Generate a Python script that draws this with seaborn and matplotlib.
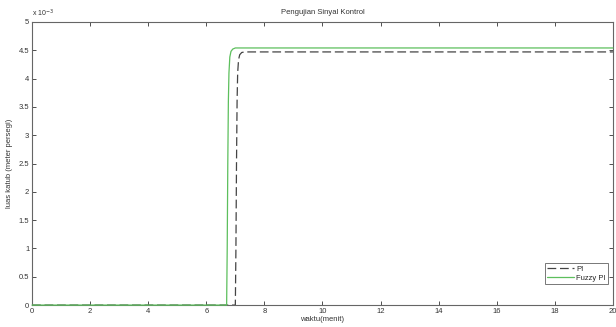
"""Pengujian Sinyal Kontrol: respon PI vs Fuzzy PI."""

import matplotlib

matplotlib.use("Agg")

import matplotlib.pyplot as plt
import numpy as np
import pandas as pd
import seaborn as sns
from matplotlib.ticker import FuncFormatter, MultipleLocator

# waktu (menit) dan luas katub (x 1e-3 m^2)
t_pi = [0.0, 7.00, 7.02, 7.04, 7.06, 7.08, 7.11, 7.15, 7.22, 7.32, 20.0]
y_pi = [0.0, 0.0, 1.0, 2.5, 3.6, 4.1, 4.33, 4.42, 4.46, 4.47, 4.47]

t_fuzzy = [0.0, 6.70, 6.72, 6.74, 6.76, 6.78, 6.81, 6.85, 6.91, 7.00, 20.0]
y_fuzzy = [0.0, 0.0, 1.0, 2.5, 3.6, 4.1, 4.38, 4.48, 4.52, 4.54, 4.54]

sns.set_style("ticks")
plt.rcParams["font.family"] = ["Liberation Sans", "DejaVu Sans"]

df_pi = pd.DataFrame({"t": t_pi, "y": np.array(y_pi) * 1e-3})
df_fz = pd.DataFrame({"t": t_fuzzy, "y": np.array(y_fuzzy) * 1e-3})

fig = plt.figure(figsize=(6.16, 3.27), dpi=100)
ax = fig.add_axes([0.052, 0.067, 0.943, 0.866])

sns.lineplot(data=df_pi, x="t", y="y", ax=ax, estimator=None, sort=False,
             color="#444444", linewidth=0.9, label="PI")
ax.lines[-1].set_dashes([7, 3])
sns.lineplot(data=df_fz, x="t", y="y", ax=ax, estimator=None, sort=False,
             color="#5cbf5c", linewidth=0.9, label="Fuzzy PI")
ax.lines[-1].set_clip_on(False)
ax.lines[-1].set_zorder(3)

ax.set_xlim(0, 20)
ax.set_ylim(0, 5e-3)
ax.xaxis.set_major_locator(MultipleLocator(2))
ax.yaxis.set_major_locator(MultipleLocator(0.5e-3))
ax.yaxis.set_major_formatter(FuncFormatter(lambda v, p: f"{v * 1e3:g}"))
ax.text(0.0, 1.01, r"x 10$^{-3}$", transform=ax.transAxes, fontsize=5,
        color="#333333", ha="left", va="bottom")

ax.tick_params(direction="in", length=3, width=0.6, labelsize=5.5, colors="#333333",
               top=True, right=True, pad=2)
for s in ax.spines.values():
    s.set_color("#666666")
    s.set_linewidth(0.8)

ax.set_title("Pengujian Sinyal Kontrol", fontsize=5.5, color="#333333", pad=6)
ax.set_xlabel("waktu(menit)", fontsize=5.5, color="#333333", labelpad=1)
ax.set_ylabel("luas katub (meter persegi)", fontsize=5.5, color="#333333", labelpad=4)

leg = ax.legend(loc="lower right", fontsize=5.5, frameon=True, fancybox=False,
                handlelength=3.5, borderpad=0.3, labelspacing=0.2,
                handletextpad=0.3, bbox_to_anchor=(0.998, 0.06))
leg.get_frame().set_edgecolor("#555555")
leg.get_frame().set_linewidth(0.7)

fig.savefig("out.png", dpi=100)
